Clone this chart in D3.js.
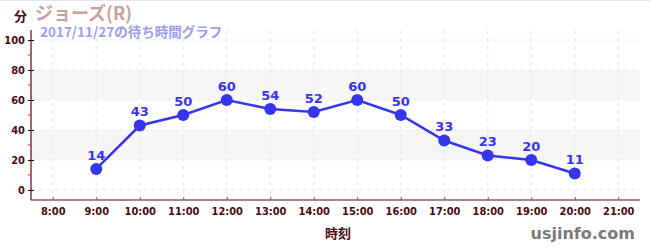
<!DOCTYPE html>
<html>
<head>
<meta charset="utf-8">
<script src="https://cdn.jsdelivr.net/npm/d3@7"></script>
<style>
  body { margin: 0; background: #fff; }
  svg { display: block; font-family: "Noto Sans CJK JP", "DejaVu Sans", sans-serif; }
  .tick text { font-family: "DejaVu Sans Condensed", "DejaVu Sans", sans-serif; font-weight: bold; font-size: 11px; fill: #4a0a10; }
</style>
</head>
<body>
<svg width="650" height="250"></svg>
<script>
const hours = [9, 10, 11, 12, 13, 14, 15, 16, 17, 18, 19, 20];
const waits = [14, 43, 50, 60, 54, 52, 60, 50, 33, 23, 20, 11];
const xTicks = [8, 9, 10, 11, 12, 13, 14, 15, 16, 17, 18, 19, 20, 21];
const yTicks = [0, 20, 40, 60, 80, 100];
const yMinor = [10, 30, 50, 70, 90];
const bands = [[20, 40], [60, 80]];

const svg = d3.select('svg');
const width = +svg.attr('width');
const height = +svg.attr('height');
const axisColor = '#5a0a10';

svg.append('rect').attr('x', 0).attr('y', 0).attr('width', width).attr('height', 1)
  .attr('fill', '#e4e4f8');

const x = d3.scaleLinear().domain([7.5, 21.5]).range([31, 640]);
const y = d3.scaleLinear().domain([-6.7, 106.7]).range([200, 30]);

// shaded bands
svg.selectAll('rect.band').data(bands).enter().append('rect')
  .attr('class', 'band')
  .attr('x', x(7.5)).attr('width', x(21.5) - x(7.5))
  .attr('y', d => y(d[1])).attr('height', d => y(d[0]) - y(d[1]))
  .attr('fill', '#f6f6f6');

// grid
svg.selectAll('line.vgrid').data(xTicks).enter().append('line')
  .attr('x1', d => x(d)).attr('x2', d => x(d))
  .attr('y1', y(106.7)).attr('y2', y(-6.7))
  .attr('stroke', '#e6e6e6').attr('stroke-dasharray', '4,4');
svg.selectAll('line.hgrid').data(yTicks).enter().append('line')
  .attr('x1', x(7.5)).attr('x2', x(21.5))
  .attr('y1', d => y(d)).attr('y2', d => y(d))
  .attr('stroke', '#e6e6e6').attr('stroke-dasharray', '4,4');

// y axis
const yAxisG = svg.append('g').attr('transform', `translate(${x(7.5)},0)`)
  .call(d3.axisLeft(y).tickValues(yTicks).tickSize(3).tickPadding(3));
yAxisG.select('.domain').attr('stroke', axisColor).attr('stroke-width', 1.2).attr('d', `M0,${y(106.7)}V${y(-6.7)}`);
yAxisG.selectAll('.tick line').attr('stroke', '#000').attr('x1', 3).attr('x2', -3);
yAxisG.selectAll('line.minor').data(yMinor).enter().append('line')
  .attr('x1', 0).attr('x2', -3).attr('y1', d => y(d)).attr('y2', d => y(d))
  .attr('stroke', '#dd2222');

// x axis
const xAxisG = svg.append('g').attr('transform', `translate(0,${y(-6.7)})`)
  .call(d3.axisBottom(x).tickValues(xTicks).tickSize(3).tickPadding(4)
    .tickFormat(d => d + ':00'));
xAxisG.select('.domain').attr('stroke', axisColor).attr('stroke-width', 1.2).attr('d', `M${x(7.5)},0H${x(21.5)}`);
xAxisG.selectAll('.tick line').attr('stroke', '#666').attr('y1', -3).attr('y2', 0);

// line and points
const blue = '#3535ee';
svg.append('path').datum(hours.map((h, i) => [h, waits[i]]))
  .attr('fill', 'none').attr('stroke', blue).attr('stroke-width', 2.5)
  .attr('d', d3.line().x(d => x(d[0])).y(d => y(d[1])));
svg.selectAll('circle.pt').data(waits).enter().append('circle')
  .attr('cx', (d, i) => x(hours[i])).attr('cy', d => y(d)).attr('r', 6)
  .attr('fill', blue);
svg.selectAll('text.val').data(waits).enter().append('text')
  .attr('x', (d, i) => x(hours[i])).attr('y', d => y(d) - 9)
  .attr('text-anchor', 'middle')
  .style('font-family', '"DejaVu Sans", sans-serif')
  .style('font-weight', 'bold').style('font-size', '13px')
  .attr('fill', blue).text(d => d);

// titles
svg.append('text').attr('x', 14).attr('y', 21)
  .style('font-weight', 'bold').style('font-size', '13px').attr('fill', '#4a0a10').text('分');
svg.append('text').attr('x', 35).attr('y', 20)
  .style('font-weight', 'bold').style('font-size', '18px').attr('fill', '#c9a0a0').text('ジョーズ(R)');
svg.append('text').attr('x', 40).attr('y', 37)
  .style('font-weight', 'bold').style('font-size', '13.5px').attr('fill', '#9c9cf0').text('2017/11/27の待ち時間グラフ');
svg.append('text').attr('x', 338).attr('y', 238).attr('text-anchor', 'middle')
  .style('font-weight', 'bold').style('font-size', '13px').attr('fill', '#4a0a10').text('時刻');
svg.append('text').attr('x', 635).attr('y', 239).attr('text-anchor', 'end')
  .style('font-family', '"DejaVu Sans", sans-serif')
  .style('font-weight', 'bold').style('font-size', '16px').attr('fill', '#7a7a7a').text('usjinfo.com');
</script>
</body>
</html>
